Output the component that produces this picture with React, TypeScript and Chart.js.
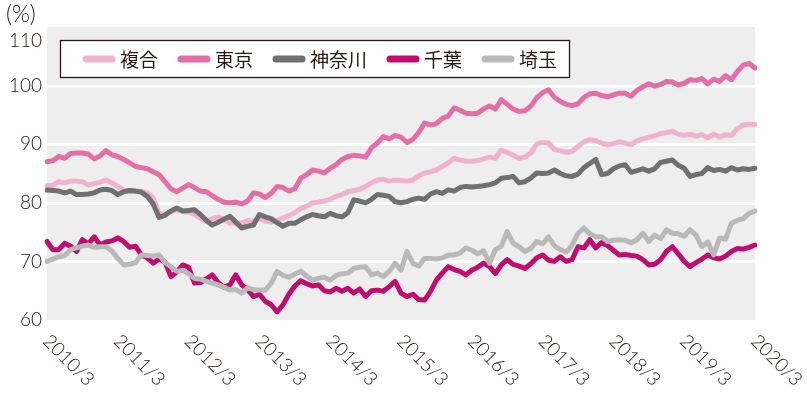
import React, { useEffect, useRef } from "react";
import { Chart, registerables } from "chart.js";

Chart.register(...registerables);

// ---- categories (monthly, 2010/3 .. 2020/3) ----
const START_YEAR = 2010;
const START_MONTH = 3;
const N_MONTHS = 121;
const months: string[] = Array.from({ length: N_MONTHS }, (_, i) => {
  const t = START_MONTH - 1 + i;
  return `${START_YEAR + Math.floor(t / 12)}/${(t % 12) + 1}`;
});

const xTickLabels = [
  "2010/3", "2011/3", "2012/3", "2013/3", "2014/3", "2015/3",
  "2016/3", "2017/3", "2018/3", "2019/3", "2020/3",
];
const yTicks = [60, 70, 80, 90, 100, 110];
const unitLabel = "(%)";

const seriesNames = ["複合", "東京", "神奈川", "千葉", "埼玉"];
const seriesColors = ["#F1B2CE", "#E46FA7", "#707070", "#BF0D70", "#B9B9B9"];

// ---- series values (%) ----
const fukugo = [
  82.9, 83.0, 83.6, 83.4, 83.7, 83.7, 83.6, 83.0, 83.3, 83.5, 83.9, 83.4,
  82.8, 82.2, 81.9, 82.0, 82.0, 81.7, 80.8, 78.2, 78.0, 78.5, 78.8, 78.5,
  78.4, 78.0, 77.4, 76.8, 77.3, 77.6, 77.2, 76.5, 76.6, 76.5, 77.0, 76.8,
  77.3, 76.9, 76.7, 77.0, 77.4, 77.8, 78.3, 79.0, 79.4, 80.0, 80.1, 80.3,
  80.6, 81.1, 81.4, 81.9, 82.1, 82.3, 82.8, 83.4, 83.9, 84.0, 83.7, 83.9,
  83.8, 83.7, 83.9, 84.6, 85.1, 85.3, 85.6, 86.2, 86.8, 87.6, 87.3, 87.1,
  87.1, 87.2, 87.5, 87.8, 87.6, 89.0, 88.6, 88.1, 87.6, 87.8, 88.5, 90.0,
  90.3, 90.2, 89.1, 88.9, 88.6, 88.8, 89.6, 90.4, 90.8, 90.6, 90.2, 89.9,
  90.1, 90.4, 90.2, 89.9, 90.6, 90.9, 91.2, 91.4, 91.8, 92.0, 92.2, 91.7,
  91.5, 91.7, 91.4, 91.6, 91.1, 91.7, 91.2, 91.6, 91.5, 92.6, 93.3, 93.4,
  93.4,
];
const tokyo = [
  87.0, 87.2, 87.9, 87.6, 88.4, 88.5, 88.5, 88.3, 87.5, 88.0, 88.9, 88.2,
  87.9, 87.4, 86.8, 86.2, 86.0, 85.8, 85.3, 84.8, 83.6, 82.4, 81.9, 82.5,
  83.1, 82.6, 82.0, 81.9, 81.2, 80.6, 80.1, 80.0, 80.1, 79.8, 80.3, 81.7,
  81.5, 80.9, 81.6, 82.8, 82.6, 82.0, 82.4, 84.2, 84.8, 85.6, 85.4, 85.1,
  85.9, 86.5, 87.4, 87.9, 88.1, 88.0, 87.8, 89.4, 90.2, 91.3, 90.9, 91.5,
  91.2, 90.3, 90.8, 92.0, 93.6, 93.3, 93.5, 94.4, 94.8, 96.2, 95.8, 95.3,
  95.2, 95.3, 96.0, 96.5, 96.0, 97.6, 96.8, 96.0, 95.6, 95.7, 96.5, 97.9,
  98.8, 99.3, 98.0, 97.3, 96.8, 96.6, 96.9, 98.0, 98.6, 98.7, 98.3, 98.1,
  98.4, 98.7, 98.7, 98.2, 99.2, 99.8, 100.3, 99.9, 100.2, 100.7, 100.6, 100.1,
  100.4, 101.0, 100.9, 101.2, 100.3, 101.1, 100.7, 101.7, 101.0, 102.4, 103.5, 103.8,
  103.0,
];
const kanagawa = [
  82.2, 82.1, 82.0, 81.7, 82.0, 81.4, 81.4, 81.5, 81.7, 82.2, 82.3, 82.1,
  81.4, 81.9, 82.1, 82.0, 81.8, 81.1, 79.8, 77.5, 77.9, 78.6, 79.1, 78.6,
  78.7, 78.8, 78.0, 77.0, 76.2, 76.7, 77.2, 77.7, 76.7, 75.7, 76.0, 76.2,
  78.0, 77.6, 77.3, 76.6, 76.0, 76.5, 76.5, 77.1, 77.6, 78.0, 77.8, 77.6,
  78.2, 77.8, 77.6, 78.3, 80.5, 80.3, 80.0, 80.6, 81.4, 81.3, 81.1, 80.2,
  80.0, 80.2, 80.6, 80.8, 80.6, 81.5, 81.9, 81.6, 82.2, 82.0, 82.6, 82.8,
  82.7, 82.8, 82.9, 83.1, 83.4, 84.2, 84.3, 84.5, 83.4, 83.6, 84.2, 85.1,
  85.0, 85.1, 85.6, 85.0, 84.6, 84.5, 84.9, 86.0, 86.7, 87.4, 84.8, 85.0,
  85.8, 86.3, 86.5, 85.2, 85.5, 85.8, 85.4, 85.8, 86.9, 87.1, 87.3, 86.4,
  85.9, 84.5, 84.8, 85.0, 86.0, 85.5, 85.7, 85.4, 86.0, 85.6, 85.8, 85.7,
  85.9,
];
const chiba = [
  73.4, 72.0, 72.0, 73.1, 72.6, 71.7, 73.7, 73.0, 74.2, 72.8, 73.3, 73.5,
  74.0, 73.4, 72.4, 72.6, 71.1, 70.6, 69.7, 70.4, 69.9, 67.4, 68.2, 69.4,
  69.0, 66.3, 66.4, 67.0, 67.7, 66.4, 65.6, 66.0, 67.7, 66.0, 65.2, 64.0,
  64.4, 63.2, 62.6, 61.4, 62.6, 64.4, 65.8, 66.7, 66.2, 65.8, 66.0, 65.0,
  64.8, 65.4, 64.9, 65.4, 64.6, 65.3, 64.0, 65.0, 65.1, 64.9, 65.7, 66.6,
  64.6, 64.0, 64.4, 63.5, 63.4, 64.9, 66.8, 68.0, 69.1, 68.6, 68.3, 67.7,
  68.5, 69.0, 69.7, 69.1, 67.9, 69.4, 70.3, 69.5, 69.2, 68.8, 69.6, 70.6,
  71.1, 70.2, 70.0, 70.8, 70.0, 70.3, 72.5, 72.3, 73.7, 72.3, 73.2, 72.7,
  71.9, 71.1, 71.2, 71.0, 70.9, 70.3, 69.4, 69.5, 70.3, 71.7, 72.5, 71.3,
  70.0, 69.1, 69.8, 70.4, 71.1, 70.6, 70.4, 70.9, 71.7, 72.2, 72.1, 72.4,
  72.8,
];
const saitama = [
  70.0, 70.4, 70.8, 71.0, 72.0, 72.3, 72.6, 72.8, 72.4, 72.5, 72.5, 71.8,
  70.5, 69.4, 69.5, 69.8, 71.1, 71.0, 70.9, 71.1, 69.8, 69.1, 68.3, 68.5,
  67.9, 67.1, 67.0, 66.6, 66.3, 66.0, 65.6, 65.1, 65.2, 64.6, 65.5, 65.2,
  65.1, 65.1, 66.3, 68.3, 67.6, 67.3, 67.8, 68.3, 67.5, 66.8, 67.1, 67.3,
  66.8, 67.6, 67.9, 68.0, 68.8, 69.0, 69.1, 67.7, 68.0, 67.4, 68.3, 69.7,
  68.5, 71.7, 69.7, 69.2, 70.5, 70.5, 70.4, 70.6, 71.1, 71.1, 71.4, 72.3,
  71.9, 71.3, 71.8, 69.7, 72.0, 72.6, 75.1, 73.1, 72.5, 71.7, 72.2, 73.4,
  73.0, 74.2, 72.7, 72.0, 71.6, 72.8, 74.8, 75.7, 74.7, 74.2, 74.2, 73.4,
  73.6, 73.7, 73.6, 73.2, 73.7, 74.8, 73.4, 74.5, 73.9, 75.4, 74.8, 74.7,
  74.3, 75.4, 74.5, 72.5, 73.3, 71.1, 74.0, 73.8, 76.5, 77.0, 77.3, 78.2,
  78.6,
];
const seriesValues = [fukugo, tokyo, kanagawa, chiba, saitama];

const LABEL_FONT = '300 19px "Lato", "Noto Sans", sans-serif';
const LEGEND_FONT = '19px "Noto Sans CJK JP", sans-serif';
const TEXT_COLOR = "#231815";

const decorPlugin = {
  id: "decor",
  beforeDatasetsDraw(chart: any) {
    const { ctx, chartArea: a, scales } = chart;
    const y = scales.y;
    ctx.save();
    ctx.fillStyle = "#EEEEEE";
    ctx.fillRect(a.left, a.top, a.right - a.left, a.bottom - a.top);
    ctx.strokeStyle = "#FFFFFF";
    ctx.lineWidth = 3;
    for (const v of yTicks) {
      if (v === yTicks[0] || v === yTicks[yTicks.length - 1]) continue;
      const py = Math.round(y.getPixelForValue(v)) + 0.5;
      ctx.beginPath();
      ctx.moveTo(a.left, py);
      ctx.lineTo(a.right, py);
      ctx.stroke();
    }
    ctx.restore();
  },
  afterDatasetsDraw(chart: any) {
    const { ctx } = chart;
    ctx.save();
    // legend box
    const bx = 60.5, by = 40.5, bw = 509, bh = 37;
    ctx.fillStyle = "#FFFFFF";
    ctx.fillRect(bx, by, bw, bh);
    ctx.strokeStyle = "#231815";
    ctx.lineWidth = 1.3;
    ctx.strokeRect(bx, by, bw, bh);
    ctx.font = LEGEND_FONT;
    ctx.textBaseline = "middle";
    ctx.textAlign = "left";
    let cx = 83;
    const cy = by + bh / 2;
    seriesNames.forEach((name, i) => {
      ctx.strokeStyle = seriesColors[i];
      ctx.lineWidth = 7;
      ctx.lineCap = "round";
      ctx.beginPath();
      ctx.moveTo(cx + 3, cy);
      ctx.lineTo(cx + 29, cy);
      ctx.stroke();
      cx += 37;
      ctx.fillStyle = TEXT_COLOR;
      ctx.fillText(name, cx, cy + 1);
      cx += ctx.measureText(name).width + 20;
    });
    ctx.restore();
  },
  afterDraw(chart: any) {
    const { ctx, chartArea: a, scales } = chart;
    const x = scales.x;
    const y = scales.y;
    ctx.save();
    ctx.fillStyle = TEXT_COLOR;
    ctx.font = LABEL_FONT;
    // y labels
    ctx.textAlign = "right";
    ctx.textBaseline = "middle";
    for (const v of yTicks) {
      const py = Math.max(y.getPixelForValue(v), a.top + 14);
      ctx.fillText(String(v), a.left - 5, py);
    }
    // unit
    ctx.textAlign = "left";
    ctx.font = '300 23px "Lato", "Noto Sans", sans-serif';
    ctx.fillText(unitLabel, 6, 15);
    // x labels (rotated 45deg clockwise)
    ctx.font = LABEL_FONT;
    ctx.textBaseline = "middle";
    for (const lab of xTickLabels) {
      const idx = months.indexOf(lab);
      const px = x.getPixelForValue(idx);
      ctx.save();
      ctx.translate(px - 1, a.bottom + 18);
      ctx.rotate(Math.PI / 4);
      ctx.fillText(lab, 0, 0);
      ctx.restore();
    }
    ctx.restore();
  },
};

export default function App() {
  const canvasRef = useRef<HTMLCanvasElement | null>(null);

  useEffect(() => {
    document.body.style.margin = "0";
    const canvas = canvasRef.current;
    if (!canvas) return;
    const chart = new Chart(canvas, {
      type: "line",
      data: {
        labels: months,
        datasets: seriesNames.map((name, i) => ({
          label: name,
          data: seriesValues[i],
          borderColor: seriesColors[i],
          backgroundColor: seriesColors[i],
          borderWidth: 5,
          pointRadius: 0,
          tension: 0,
          fill: false,
          borderJoinStyle: "round" as const,
          borderCapStyle: "round" as const,
          order: seriesNames.length - i,
        })),
      },
      options: {
        responsive: false,
        animation: false,
        devicePixelRatio: 1,
        layout: { padding: { left: 47, right: 52, top: 27, bottom: 76 } },
        plugins: {
          legend: { display: false },
          tooltip: { enabled: false },
        },
        scales: {
          x: { type: "category", display: false, offset: false },
          y: { type: "linear", display: false, min: 60, max: 110 },
        },
      },
      plugins: [decorPlugin],
    });
    return () => chart.destroy();
  }, []);

  return (
    <div style={{ position: "fixed", left: 0, top: 0, width: 807, height: 396, background: "#fff" }}>
      <canvas ref={canvasRef} width={807} height={396} />
    </div>
  );
}
